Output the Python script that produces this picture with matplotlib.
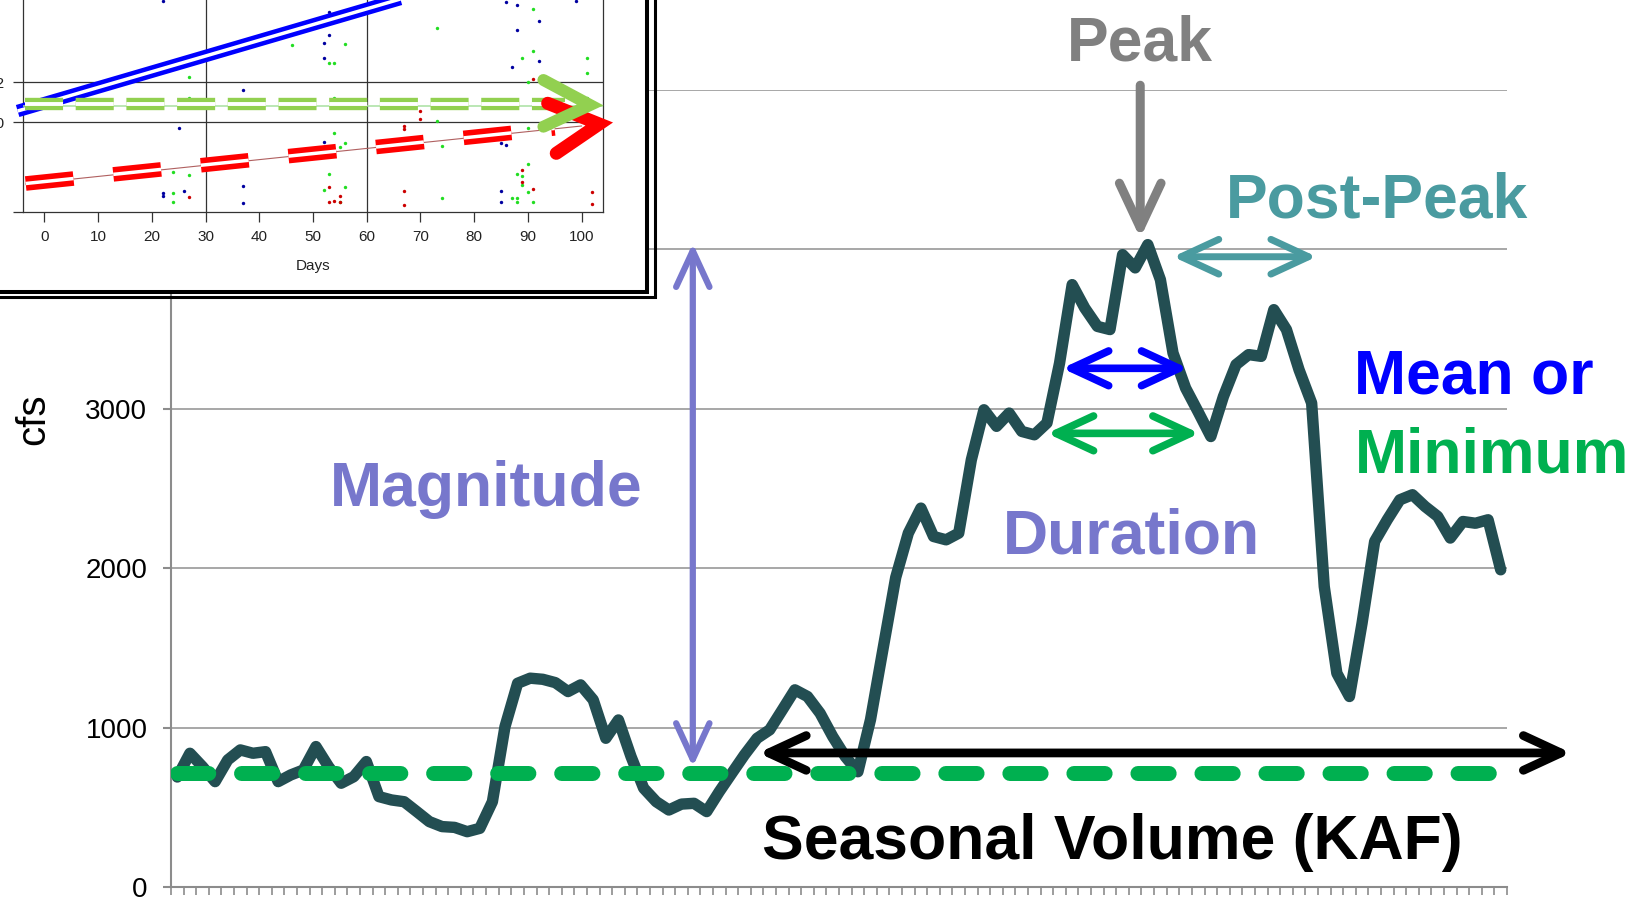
import numpy as np
import matplotlib.pyplot as plt
from matplotlib.patches import FancyArrowPatch, Rectangle
from matplotlib.lines import Line2D

plt.rcParams['font.family'] = ['Liberation Sans', 'DejaVu Sans']
plt.rcParams['lines.scale_dashes'] = False

# ---- main hydrograph: daily flow (cfs), one value per day ----
flow_cfs = [690, 839, 755, 661, 797, 860, 839, 849, 661, 703,
            734, 881, 755, 651, 692, 787, 567, 546, 535, 473,
            410, 379, 374, 347, 368, 535, 1006, 1278, 1310, 1303,
            1282, 1226, 1268, 1174, 933, 1048, 818, 620, 535, 483,
            520, 525, 473, 598, 714, 829, 933, 986, 1111, 1237,
            1195, 1090, 944, 818, 723, 1050, 1497, 1942, 2220, 2377,
            2199, 2178, 2220, 2680, 2994, 2890, 2973, 2858, 2837, 2911,
            3287, 3779, 3632, 3517, 3497, 3967, 3884, 4030, 3810, 3350,
            3130, 2980, 2826, 3077, 3277, 3340, 3329, 3622, 3497, 3245,
            3036, 1885, 1341, 1195, 1655, 2168, 2304, 2429, 2461, 2387,
            2325, 2189, 2293, 2282, 2304, 1990]
threshold_cfs = 715
y_ticks = [0, 1000, 2000, 3000, 4000, 5000]

# ---- inset: trend plot vs days ----
inset_xticks = list(range(0, 101, 10))
inset_yticks = [0, 9, 13]
inset_yticklabels = ['', '1.0', '1.2']
blue_days = [22, 24, 25, 26, 22, 22, 37, 37, 37, 53, 52, 52, 52, 54, 53,
             86, 88, 92, 88, 87, 92, 85, 85, 86, 85, 85, 99]
blue_vals = [21.1, 15.0, 8.4, 2.1, 1.9, 1.6, 12.2, 2.6, 0.9, 17.7, 16.9, 15.4, 7.0, 6.1, 20.0,
             21.0, 20.7, 19.1, 18.2, 14.5, 15.1, 7.6, 6.9, 6.7, 2.1, 1.0, 21.1]
green_days = [27, 27, 27, 24, 24, 24, 46, 56, 53, 54, 54, 54, 56, 55, 53, 52, 56, 55,
              73, 73, 74, 74, 91, 91, 89, 90, 90, 90, 88, 89, 89, 90, 87, 88, 88, 91,
              101, 101, 101, 101]
green_vals = [13.5, 11.4, 3.7, 4.0, 1.9, 1.0, 16.7, 16.8, 14.9, 14.9, 11.4, 7.9, 6.9, 6.5,
              3.8, 2.2, 2.5, 1.0, 18.4, 9.1, 6.6, 1.4, 20.3, 16.1, 15.4, 13.0, 8.4, 4.8,
              3.8, 3.6, 2.7, 2.0, 1.4, 1.4, 1.0, 1.0, 15.4, 13.9, 9.7, 11.4]
red_days = [27, 53, 55, 54, 55, 53, 67, 67, 70, 70, 70, 67, 67, 91, 89, 89, 91, 102, 102]
red_vals = [1.5, 2.5, 1.6, 1.1, 1.0, 1.0, 8.6, 8.3, 10.1, 9.3, 6.8, 2.1, 0.7,
            13.3, 4.2, 3.0, 2.3, 2.0, 0.8]
blue_trend_days = [-5.0, 72.0]
blue_trend_vals = [10.1, 22.2]
green_trend_days = [-3.7, 97.0]
green_trend_vals = [10.78, 10.78]
red_trend_days = [-3.5, 95.0]
red_trend_vals = [2.85, 8.36]

W, H = 1643, 901
fig = plt.figure(figsize=(W / 100, H / 100), dpi=100)


def box(x0, y0, x1, y1):
    # pixel box (from top-left) -> figure fraction rect
    return [x0 / W, 1 - y1 / H, (x1 - x0) / W, (y1 - y0) / H]


ax = fig.add_axes(box(171, 90, 1507, 887))
days = np.arange(len(flow_cfs)) + 0.5
ax.plot(days, flow_cfs, color='#234E52', lw=8.2, solid_joinstyle='round',
        solid_capstyle='round', zorder=3)
ax.plot([days[0], days[-1]], [threshold_cfs, threshold_cfs], color='#00B050', lw=10.8,
        linestyle=(0, (22.5, 23.6)), dash_capstyle='round', zorder=4)

ax.set_xlim(0, len(flow_cfs))
ax.set_ylim(0, 5000)
ax.set_xticks(np.arange(0, len(flow_cfs) + 1))
ax.set_xticklabels([])
ax.set_yticks(y_ticks)
ax.tick_params(axis='x', length=6, width=1.2, color='#8c8c8c')
ax.tick_params(axis='y', length=6, width=1.5, color='#8c8c8c', labelsize=20, pad=11)
for s in ['top', 'right']:
    ax.spines[s].set_visible(False)
for s in ['left', 'bottom']:
    ax.spines[s].set_color('#8c8c8c')
    ax.spines[s].set_linewidth(1.5)
ax.yaxis.grid(True, color='#a0a0a0', lw=1.3)
ax.set_axisbelow(True)
ax.set_ylabel('cfs', fontsize=29)
ax.yaxis.set_label_coords(-0.089, 0.587)
# the 4000/5000 labels sit under the inset picture
for t in ax.get_yticklabels()[4:]:
    t.set_visible(False)


def add_arrow(p0, p1, color, lw, style='<->', hl=27, hw=12.5):
    a = FancyArrowPatch(p0, p1, arrowstyle=f'{style},head_length={hl},head_width={hw}',
                        mutation_scale=1, color=color, lw=lw, shrinkA=0, shrinkB=0,
                        capstyle='round', joinstyle='round', clip_on=False, zorder=6)
    ax.add_patch(a)


def label(x, y, s, color):
    ax.text(x, y, s, fontsize=45, fontweight='bold', color=color, ha='left',
            va='baseline', clip_on=False, zorder=7)


purple = '#7777CC'
teal = '#4A9BA0'
add_arrow((41.4, 754), (41.4, 4038), purple, 4.5, hl=26, hw=12)
add_arrow((76.9, 5030), (76.9, 4070), '#808080', 6.5, style='->', hl=32, hw=15)
add_arrow((79.5, 3954), (90.9, 3954), teal, 5.0)
add_arrow((70.7, 3254), (80.7, 3254), '#0000FF', 5.5)
add_arrow((69.5, 2846), (81.6, 2846), '#00B050', 5.5)
add_arrow((46.6, 841), (111.1, 841), 'black', 6.3)

ax.text(76.9, 5188, 'Peak', fontsize=45, fontweight='bold', color='#808080',
        ha='center', va='baseline', clip_on=False, zorder=7)
label(83.7, 4197, 'Post-Peak', teal)
label(93.9, 3093, 'Mean or', '#0000FF')
label(93.9, 2600, 'Minimum', '#00B050')
label(12.6, 2390, 'Magnitude', purple)
label(66.0, 2095, 'Duration', purple)
label(46.9, 176, 'Seasonal Volume (KAF)', 'black')

# ---- inset panel ----
fig.add_artist(Rectangle((0, 1 - 293 / H), 649 / W, 293 / H, transform=fig.transFigure,
                         facecolor='white', edgecolor='none', zorder=2))
ins = fig.add_axes(box(23, -50, 603, 212))
ins.set_zorder(3)
ins.set_facecolor('white')
ins.set_xlim(-4, 104)
ins.set_ylim(0, 26.2)
ins.spines['top'].set_visible(False)
for s in ['left', 'right', 'bottom']:
    ins.spines[s].set_color('#333333')
    ins.spines[s].set_linewidth(0.9)
ins.set_xticks(inset_xticks)
ins.set_yticks(inset_yticks)
ins.set_yticklabels(inset_yticklabels)
ins.tick_params(length=7, width=0.9, color='#333333', labelsize=11, labelcolor='#222222', pad=6)
ins.set_xlabel('Days', fontsize=11, color='#222222', labelpad=11)
for d in [30, 60]:
    ins.axvline(d, color='#333333', lw=0.9)
for v in [9, 13]:
    ins.axhline(v, color='#333333', lw=0.9)

ins.scatter(blue_days, blue_vals, s=6, color='#0000A0', lw=0, zorder=3)
ins.scatter(green_days, green_vals, s=6, color='#22DD22', lw=0, zorder=3)
ins.scatter(red_days, red_vals, s=6, color='#CC0000', lw=0, zorder=3)

ins.plot(blue_trend_days, blue_trend_vals, color='#0000FF', lw=9, clip_on=False,
         solid_capstyle='butt', zorder=4)
ins.plot(blue_trend_days, blue_trend_vals, color='white', lw=2.5, clip_on=False,
         solid_capstyle='butt', zorder=4)

ins.plot([-4, 104], [10.6, 10.6], color='#A8E0A0', lw=1.1, zorder=4)
ins.plot(green_trend_days, green_trend_vals, color='#92D050', lw=8.9,
         linestyle=(0, (27.4, 9.1)), clip_on=False, zorder=4)
ins.plot(green_trend_days, green_trend_vals, color='white', lw=2.8,
         linestyle=(0, (27.4, 9.1)), clip_on=False, zorder=4)

ins.plot([-3.5, 100], [2.8, 8.6], color='#B06060', lw=0.8, zorder=4)
ins.plot(red_trend_days, red_trend_vals, color='#FF0000', lw=10.5,
         linestyle=(0, (34.6, 28.8)), clip_on=False, zorder=4)
ins.plot(red_trend_days, red_trend_vals, color='white', lw=2.5,
         linestyle=(0, (34.6, 28.8)), clip_on=False, zorder=4)

ins.plot([93.7, 103.3, 95.3], [10.87, 8.8, 5.87], color='#FF0000', lw=9.4,
         solid_capstyle='round', solid_joinstyle='miter', clip_on=False, zorder=5)
ins.plot([92.9, 101.6, 92.9], [13.2, 10.7, 8.53], color='#92D050', lw=8.6,
         solid_capstyle='round', solid_joinstyle='miter', clip_on=False, zorder=5)

# double border around the inset
fig.add_artist(Line2D(np.array([647, 647, 0]) / W, 1 - np.array([0, 291.5, 291.5]) / H,
                      transform=fig.transFigure, color='black', lw=2.9,
                      solid_joinstyle='miter', zorder=4))
fig.add_artist(Line2D(np.array([655, 655, 0]) / W, 1 - np.array([0, 296.5, 296.5]) / H,
                      transform=fig.transFigure, color='black', lw=2.2,
                      solid_joinstyle='miter', zorder=4))

fig.savefig('out.png', dpi=100)
